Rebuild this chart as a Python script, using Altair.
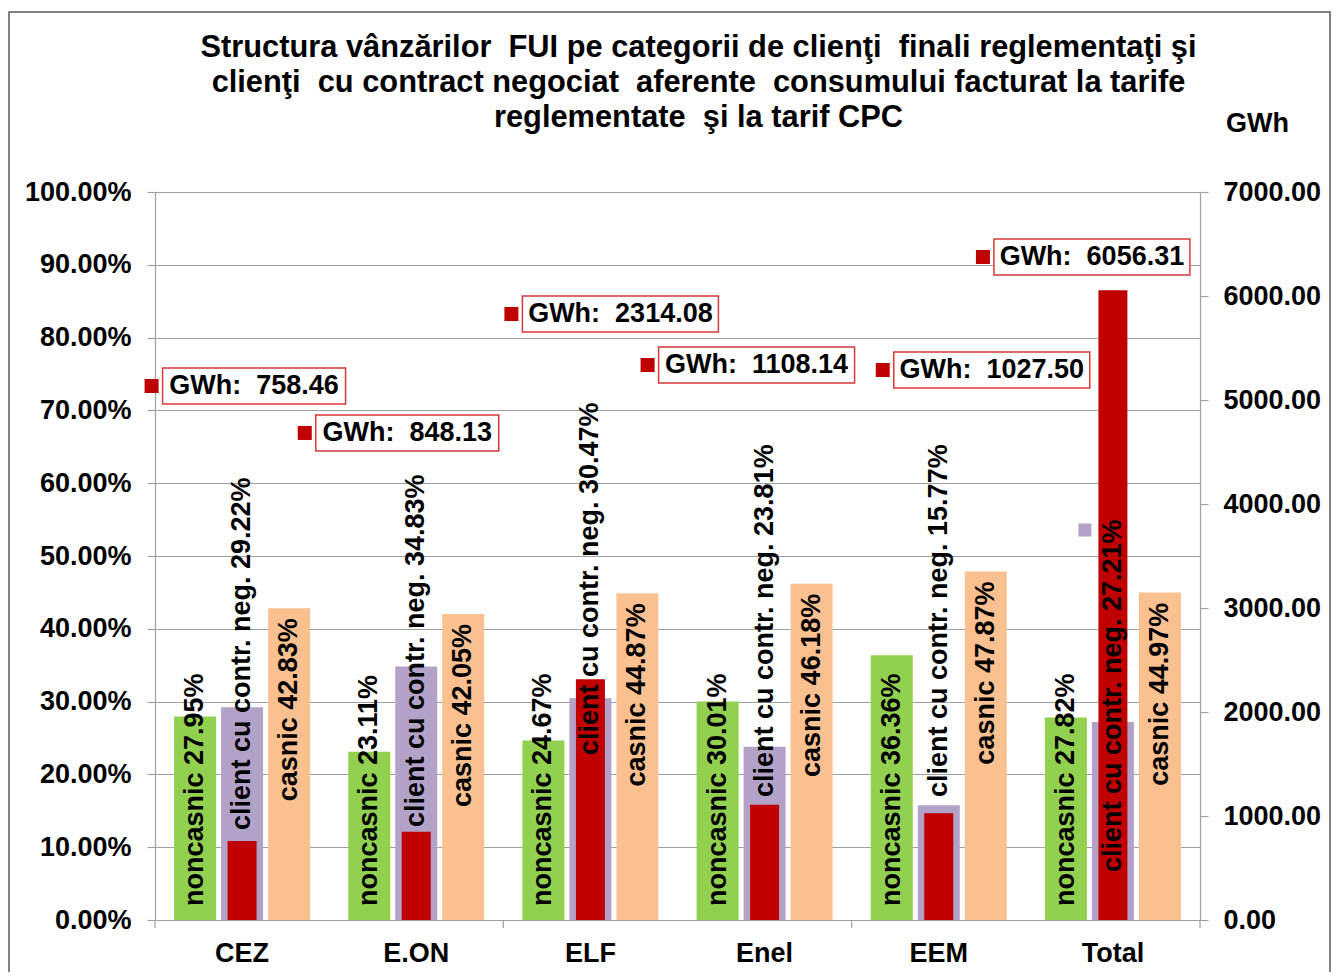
import altair as alt
import pandas as pd

# ---------------- data ----------------
CATEGORIES = ["CEZ", "E.ON", "ELF", "Enel", "EEM", "Total"]
SERIES = ["noncasnic", "client cu contr. neg.", "casnic"]
NONCASNIC = [27.95, 23.11, 24.67, 30.01, 36.36, 27.82]
CLIENT_NEG = [29.22, 34.83, 30.47, 23.81, 15.77, 27.21]
CASNIC = [42.83, 42.05, 44.87, 46.18, 47.87, 44.97]
GWH = [758.46, 848.13, 2314.08, 1108.14, 1027.50, 6056.31]
PCT_TICKS = [i / 10 for i in range(11)]
GWH_TICKS = [i * 1000 for i in range(8)]

TITLE = [
    "Structura vânzărilor \u00a0FUI pe categorii de clienţi \u00a0finali reglementaţi şi",
    "clienţi \u00a0cu contract negociat \u00a0aferente \u00a0consumului facturat la tarife",
    "reglementate \u00a0şi la tarif CPC",
]

# ---------------- layout of hand-placed data labels ----------------
CLIENT_LABEL_START = [0.1236, 0.1277, 0.2266, 0.169, 0.169, 0.0659]   # left-axis units
GWH_LABEL_Y = [0.7335, 0.669, 0.8324, 0.7624, 0.7555, 0.9107]        # left-axis units
GWH_LABEL_DX = [12, -9, 30, -8, 53, -21]                              # px from group centre
STRAY_KEY = {"cat": "Total", "y": 0.5357, "dx": -28}

# ---------------- styles ----------------
FONT = "Liberation Sans"
W, H = 1045, 728
GRAY = "#a0a0a0"
COLORS = ["#92D050", "#B3A2C7", "#FAC090"]
RED = "#C00000"
BOXRED = "#D9383A"

rows = []
for i, c in enumerate(CATEGORIES):
    for s, vals in zip(SERIES, [NONCASNIC, CLIENT_NEG, CASNIC]):
        rows.append({
            "cat": c, "series": s, "pct": vals[i] / 100,
            "label": f"{s} {vals[i]:.2f}%",
            "start": CLIENT_LABEL_START[i] if s == SERIES[1] else 0.0,
        })
df = pd.DataFrame(rows)
gdf = pd.DataFrame({"cat": CATEGORIES, "gwh": GWH})

x_axis = alt.Axis(title=None, labelAngle=0, ticks=False, tickSize=0, labelPadding=20,
                  domainColor=GRAY, domainWidth=1.2, grid=False, labelFont=FONT,
                  labelFontSize=27, labelFontWeight="bold", labelColor="black")
x_scale = alt.Scale(domain=CATEGORIES, paddingInner=0, paddingOuter=0)


def xenc(**kw):
    return alt.X("cat:N", sort=CATEGORIES, scale=x_scale, axis=x_axis, **kw)


xo_enc = alt.XOffset("series:N", sort=SERIES,
                     scale=alt.Scale(domain=SERIES, paddingInner=0.1064, paddingOuter=0.406))


def pct_scale():
    return alt.Scale(domain=[0, 1], nice=False, zero=True)


left_axis = alt.Axis(values=PCT_TICKS, format=".2%", grid=True, gridColor=GRAY, gridWidth=1.2,
                     domainColor=GRAY, domainWidth=1.2, tickColor=GRAY, tickSize=8, tickWidth=1.2,
                     labelPadding=16, labelFont=FONT, labelFontSize=27, labelFontWeight="bold",
                     labelColor="black", title=None, orient="left")

bars = alt.Chart(df).mark_bar().encode(
    x=xenc(), xOffset=xo_enc,
    y=alt.Y("pct:Q", scale=pct_scale(), axis=left_axis),
    color=alt.Color("series:N", scale=alt.Scale(domain=SERIES, range=COLORS), legend=None),
)

red = alt.Chart(gdf).mark_bar(width=29, color=RED).encode(
    x=xenc(),
    y=alt.Y("gwh:Q", scale=alt.Scale(domain=[0, 7000], nice=False),
            axis=alt.Axis(orient="right", values=GWH_TICKS, format=".2f", grid=False,
                          tickSize=8, tickColor=GRAY, tickWidth=1.2, domainColor=GRAY,
                          domainWidth=1.2, labelPadding=15, labelFont=FONT, labelFontSize=27,
                          labelFontWeight="bold", labelColor="black",
                          title="GWh", titleAngle=0, titleX=57, titleY=-69, titleAlign="center",
                          titleBaseline="middle", titleFont=FONT, titleFontSize=27,
                          titleFontWeight="bold", titleColor="black")),
)

txt_style = dict(angle=270, baseline="middle", fontSize=27, fontWeight="bold",
                 color="black", font=FONT)
green_txt = alt.Chart(df).transform_filter(alt.datum.series == SERIES[0]).mark_text(
    align="left", dx=14, **txt_style).encode(
    x=xenc(), xOffset=xo_enc, y=alt.Y("start:Q", scale=pct_scale(), axis=None), text="label:N")
purple_txt = alt.Chart(df).transform_filter(alt.datum.series == SERIES[1]).mark_text(
    align="left", dx=0, **txt_style).encode(
    x=xenc(), xOffset=xo_enc, y=alt.Y("start:Q", scale=pct_scale(), axis=None), text="label:N")
orange_txt = alt.Chart(df).transform_filter(alt.datum.series == SERIES[2]).mark_text(
    align="right", dx=-10, **txt_style).encode(
    x=xenc(), xOffset=xo_enc, y=alt.Y("pct:Q", scale=pct_scale(), axis=None), text="label:N")
texts = alt.layer(green_txt, purple_txt, orange_txt)

label_layers = []
for i, c in enumerate(CATEGORIES):
    plain = f"GWh:  {GWH[i]:.2f}"
    shown = f"GWh:\u00a0 {GWH[i]:.2f}"
    w = 13 * len(plain) + 27
    h = 36 / w
    path = f"M-1,{-h:.4f}L1,{-h:.4f}L1,{h:.4f}L-1,{h:.4f}Z"
    dx = GWH_LABEL_DX[i]
    row = pd.DataFrame({"cat": [c], "ly": [GWH_LABEL_Y[i]], "txt": [shown]})
    base = alt.Chart(row).encode(x=xenc(), y=alt.Y("ly:Q", scale=pct_scale(), axis=None))
    label_layers.append(base.mark_point(shape=path, size=w * w, filled=True, fill="white",
                                        stroke=BOXRED, strokeWidth=1.5, opacity=1, xOffset=dx))
    label_layers.append(base.mark_square(size=196, color=RED, opacity=1, xOffset=dx - w / 2 - 11))
    label_layers.append(base.mark_text(dx=dx, align="center", baseline="middle", fontSize=27,
                                       fontWeight="bold", color="black", font=FONT).encode(text="txt:N"))
stray = alt.Chart(pd.DataFrame({"cat": [STRAY_KEY["cat"]], "ly": [STRAY_KEY["y"]]})).mark_square(
    size=169, color=COLORS[1], opacity=1, xOffset=STRAY_KEY["dx"]).encode(
    x=xenc(), y=alt.Y("ly:Q", scale=pct_scale(), axis=None))
labels = alt.layer(*label_layers, stray)

ticks_a = alt.Chart(pd.DataFrame({"cat": [CATEGORIES[0], CATEGORIES[2], CATEGORIES[4]]})).mark_rule(
    color=GRAY, strokeWidth=1.2).encode(x=xenc(bandPosition=0), y=alt.value(H), y2=alt.value(H + 8))
ticks_b = alt.Chart(pd.DataFrame({"cat": [CATEGORIES[-1]]})).mark_rule(
    color=GRAY, strokeWidth=1.2).encode(x=xenc(bandPosition=1), y=alt.value(H), y2=alt.value(H + 8))

frame = alt.Chart(pd.DataFrame({"a": [0]})).mark_rect(
    fillOpacity=0, stroke="#5a5a5a", strokeWidth=1.5).encode(
    x=alt.value(-146), x2=alt.value(1175), y=alt.value(-180), y2=alt.value(790))

title = alt.Chart(pd.DataFrame({"a": [0]})).mark_text(
    text=TITLE, align="center", baseline="top", lineHeight=35, fontSize=30.8,
    fontWeight="bold", font=FONT, color="black").encode(
    x=alt.value(W / 2 + 21), y=alt.value(-159))

chart = alt.layer(frame, title, bars, red, texts, labels, ticks_a, ticks_b).resolve_scale(
    y="independent"
).properties(
    width=W, height=H,
    autosize=alt.AutoSizeParams(type="none"),
    padding={"left": 147, "top": 184, "right": 131, "bottom": 52},
    background="white",
).configure_view(stroke=None)

chart.save("out.html", embed_options={"renderer": "svg", "actions": False})
